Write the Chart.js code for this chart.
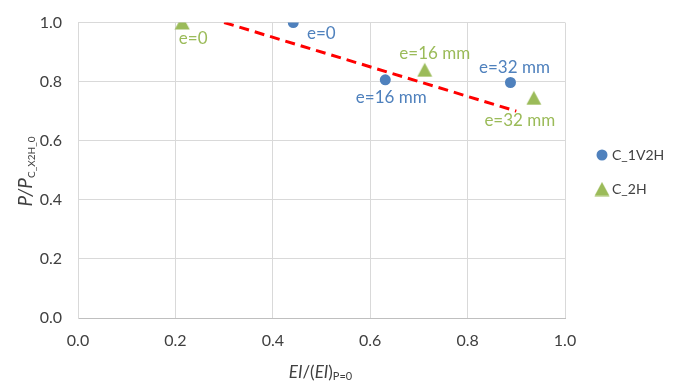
<!DOCTYPE html>
<html><head><meta charset="utf-8">
<script src="https://cdn.jsdelivr.net/npm/chart.js@4/dist/chart.umd.min.js"></script>
<style>html,body{margin:0;padding:0;background:#fff}#wrap{width:677px;height:381px}</style>
</head><body><div id="wrap"><canvas id="c" width="677" height="381"></canvas></div>
<script>
// ---- data ----
const seriesNames = ['C_1V2H', 'C_2H'];
const c1v2hX = [0.442, 0.631, 0.888];
const c1v2hY = [1.0, 0.806, 0.797];
const c1v2hLabels = ['e=0', 'e=16 mm', 'e=32 mm'];
const c2hX = [0.214, 0.712, 0.936];
const c2hY = [1.0, 0.84, 0.745];
const c2hLabels = ['e=0', 'e=16 mm', 'e=32 mm'];
const trendX = [0.3, 0.9];
const trendY = [1.0, 0.7];
const xTickValues = [0, 0.2, 0.4, 0.6, 0.8, 1.0];
const yTickValues = [0, 0.2, 0.4, 0.6, 0.8, 1.0];

// ---- styles / layout ----
const BLUE = '#4F81BD', GREEN = '#9BBB59', RED = '#FF0000';
const TEXT = '#404040', TITLE = '#404040';
const FONT = 'Lato, "Open Sans", sans-serif';
// label offsets (pixels, relative to point) for each series point
const blueLabelOffsets = [[28, 11], [6, 18], [4, -15]];
const greenLabelOffsets = [[11, 16], [10, -16], [-14, 23]];

function pts(xs, ys) { return xs.map((x, i) => ({ x: x, y: ys[i] })); }

// triangle marker as canvas (centred on its bounding box)
const tri = document.createElement('canvas');
tri.width = 16; tri.height = 15;
(function () {
  const g = tri.getContext('2d');
  g.fillStyle = GREEN;
  g.beginPath(); g.moveTo(8, 0.5); g.lineTo(15.5, 14.5); g.lineTo(0.5, 14.5); g.closePath(); g.fill();
})();

const labelPlugin = {
  id: 'pointLabels',
  afterDatasetsDraw(chart) {
    const ctx = chart.ctx, xs = chart.scales.x, ys = chart.scales.y;
    chart.data.datasets.forEach(ds => {
      if (!ds.pointLabels) return;
      ctx.save();
      ctx.font = '17px ' + FONT;
      ctx.fillStyle = ds.labelColor;
      ctx.textAlign = 'center';
      ctx.textBaseline = 'middle';
      ds.data.forEach((p, i) => {
        const px = xs.getPixelForValue(p.x), py = ys.getPixelForValue(p.y);
        const o = ds.labelOffsets[i];
        ctx.fillText(ds.pointLabels[i], px + o[0], py + o[1]);
      });
      ctx.restore();
    });
  }
};

function drawSegments(ctx, segs, x, y) {
  let w = 0;
  segs.forEach(s => { ctx.font = s.font; s.w = ctx.measureText(s.t).width; w += s.w; });
  let cx = x - w / 2;
  segs.forEach(s => { ctx.font = s.font; ctx.fillText(s.t, cx, y + (s.dy || 0)); cx += s.w; });
}

const titlePlugin = {
  id: 'axisTitles',
  afterDraw(chart) {
    const ctx = chart.ctx, a = chart.chartArea;
    ctx.save();
    ctx.fillStyle = TITLE;
    ctx.textAlign = 'left';
    ctx.textBaseline = 'alphabetic';
    const it = 'italic 17px ' + FONT, nm = '17px ' + FONT, sb = '11px ' + FONT;
    drawSegments(ctx, [
      { t: 'EI', font: it }, { t: '/(', font: nm }, { t: 'EI', font: it }, { t: ')', font: nm },
      { t: 'P=0', font: sb, dy: 2 }
    ], (a.left + a.right) / 2 - 1, 378);
    ctx.translate(32, 171.5);
    ctx.rotate(-Math.PI / 2);
    drawSegments(ctx, [
      { t: 'P/P', font: 'italic 19px ' + FONT }, { t: 'C_X2H_0', font: '10px ' + FONT, dy: 2.5 }
    ], 0, 0);
    ctx.restore();
  }
};

const legendPlugin = {
  id: 'sideLegend',
  afterDraw(chart) {
    const ctx = chart.ctx;
    const rows = [155, 189];
    let r = 0;
    chart.data.datasets.forEach(ds => {
      if (!ds.inLegend) return;
      const y = rows[r++];
      ctx.save();
      if (ds.pointStyle === 'circle') {
        ctx.fillStyle = ds.backgroundColor;
        ctx.beginPath(); ctx.arc(602, y, 5.5, 0, Math.PI * 2); ctx.fill();
      } else {
        ctx.drawImage(ds.pointStyle, 602 - 8, y - 7.5);
      }
      ctx.fillStyle = TITLE;
      ctx.font = '14px ' + FONT;
      ctx.textAlign = 'left';
      ctx.textBaseline = 'middle';
      ctx.fillText(ds.label, 612, y + 0.5);
      ctx.restore();
    });
  }
};

new Chart(document.getElementById('c'), {
  type: 'scatter',
  data: {
    datasets: [
      {
        label: seriesNames[0], data: pts(c1v2hX, c1v2hY),
        pointStyle: 'circle', pointRadius: 5.5, pointHoverRadius: 5.5,
        backgroundColor: BLUE, borderColor: BLUE, borderWidth: 0,
        pointLabels: c1v2hLabels, labelColor: BLUE, labelOffsets: blueLabelOffsets, inLegend: true
      },
      {
        label: seriesNames[1], data: pts(c2hX, c2hY),
        pointStyle: tri, pointRadius: 8,
        backgroundColor: GREEN, borderColor: GREEN, borderWidth: 0,
        pointLabels: c2hLabels, labelColor: GREEN, labelOffsets: greenLabelOffsets, inLegend: true
      },
      {
        type: 'line', label: 'trend', data: pts(trendX, trendY),
        borderColor: RED, borderWidth: 3, borderDash: [10, 6], pointRadius: 0,
        fill: false, showLine: true
      }
    ]
  },
  options: {
    responsive: false, devicePixelRatio: 1, animation: false,
    layout: { padding: { top: 22.5, right: 112, left: 0, bottom: 0 } },
    plugins: { legend: { display: false }, tooltip: { enabled: false } },
    scales: {
      x: {
        type: 'linear', min: 0, max: 1,
        afterBuildTicks: s => { s.ticks = xTickValues.map(v => ({ value: v })); },
        afterFit: s => { s.height = 63; },
        ticks: { callback: v => v.toFixed(1), font: { family: FONT, size: 16, lineHeight: 1 }, color: TEXT, padding: 15, maxRotation: 0 },
        grid: { color: '#D9D9D9', lineWidth: 1, drawTicks: false },
        border: { color: '#BFBFBF', width: 1 },
        title: { display: false }
      },
      y: {
        type: 'linear', min: 0, max: 1,
        afterBuildTicks: s => { s.ticks = yTickValues.map(v => ({ value: v })); },
        afterFit: s => { s.width = 78; s.paddingTop = 0; s.paddingBottom = 0; },
        ticks: { callback: v => v.toFixed(1), font: { family: FONT, size: 16, lineHeight: 1 }, color: TEXT, padding: 16 },
        grid: { color: '#D9D9D9', lineWidth: 1, drawTicks: false },
        border: { color: '#D9D9D9', width: 1 },
        title: { display: false }
      }
    }
  },
  plugins: [labelPlugin, titlePlugin, legendPlugin]
});
</script>
</body></html>
